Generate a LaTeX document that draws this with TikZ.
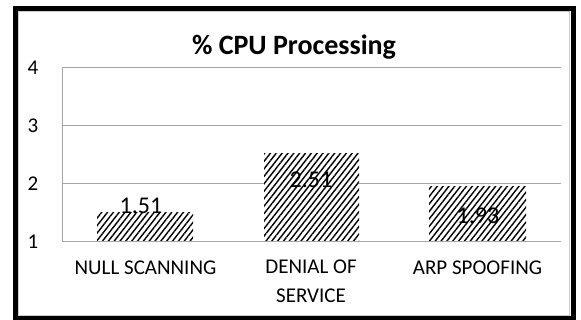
\documentclass[tikz,border=0pt]{standalone}
\usepackage{fontspec}
\setmainfont{Carlito}
\usetikzlibrary{patterns.meta}
\begin{document}
\begin{tikzpicture}[x=1pt,y=-1pt,
  grid/.style={draw=gray!70,line width=0.9pt},
  bar/.style={fill=white,postaction={pattern={Lines[angle=52,distance=4.6pt,line width=1.4pt]},pattern color=black}},
  ticklbl/.style={font=\fontsize{21}{25}\selectfont,anchor=center},
  catlbl/.style={font=\fontsize{21}{29}\selectfont,align=center,anchor=base},
  vallbl/.style={font=\fontsize{24}{28}\selectfont,anchor=center},
  titlelbl/.style={font=\bfseries\fontsize{28}{32}\selectfont,anchor=base}]
\useasboundingbox (0,0) rectangle (581,320);
% chart frame
\fill[white] (0,0) rectangle (581,320);
\draw[gray!40,line width=0.6pt] (18.5,11.5) rectangle (569,315);
\draw[black,line width=5pt] (15.5,8.5) rectangle (573.5,318.5);
% title
\node[titlelbl] (title) at (294,55) {\% CPU Processing};
% horizontal grid lines and value axis
\foreach \v/\yy in {1/241,2/183,3/125,4/67}{
  \coordinate (gl\v) at (62,\yy);
  \coordinate (gr\v) at (561,\yy);
  \draw[grid] (gl\v) -- (gr\v);
  \node[ticklbl] (t\v) at (33,\yy+1) {\v};
}
\draw[grid] (gl1) -- (gl4);
% bars
\draw[bar,draw=none] (97,241) rectangle (193,212.4);
\draw[bar,draw=none] (264,241) rectangle (359,153.4);
\draw[bar,draw=none] (429,241) rectangle (526,187);
% value labels
\node[vallbl] (v1) at (141,206) {1.51};
\node[vallbl] (v2) at (311,180) {2.51};
\node[vallbl] (v3) at (478,216) {1.93};
% category labels (base anchor sits on the last line)
\node[catlbl] (c1) at (145.5,275) {NULL SCANNING};
\node[catlbl] (c2) at (311,303) {DENIAL OF\\SERVICE};
\node[catlbl] (c3) at (477.5,275) {ARP SPOOFING};
\end{tikzpicture}
\end{document}
